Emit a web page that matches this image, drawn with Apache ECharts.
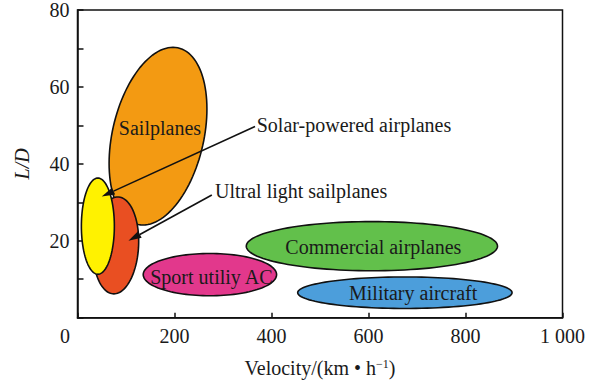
<!DOCTYPE html>
<html>
<head>
<meta charset="utf-8">
<script src="https://cdn.jsdelivr.net/npm/echarts@6/dist/echarts.min.js"></script>
<style>html,body{margin:0;padding:0;background:#fff}#c{width:600px;height:386px}</style>
</head>
<body>
<div id="c"></div>
<script>
// ---- data ----
const regionNames = ['Sailplanes', 'Ultral light sailplanes', 'Solar-powered airplanes', 'Commercial airplanes', 'Sport utiliy AC', 'Military aircraft'];
const centerVelocity = [166, 79, 42, 607, 273, 675];
const centerLD = [47.2, 18.8, 23.8, 18.6, 11.2, 6.5];
const halfWidthVelocity = [96, 47, 34, 259, 137.5, 221];
const halfHeightLD = [23.1, 12.6, 12.5, 6.4, 5.5, 4.1];
const tiltVelocity = [30.9, 4, 0, 0, 0, 0];
const innerLabelVelocity = [170, null, null, 610, 276, 692];
const innerLabelLD = [49.3, null, null, 18.5, 10.7, 6.5];

const calloutNames = ['Solar-powered airplanes', 'Ultral light sailplanes'];
const calloutTextVelocity = [369.5, 283.5];
const calloutTextLD = [50.2, 32.9];
const arrowFromVelocity = [366, 277];
const arrowFromLD = [49.7, 31.9];
const arrowToVelocity = [50, 105];
const arrowToLD = [31.5, 20.0];

const xTicks = [0, 200, 400, 600, 800, 1000];
const xTickLabels = ['0', '200', '400', '600', '800', '1 000'];
const yLabelled = [20, 40, 60, 80];

// ---- styles ----
const regionColors = ['#F39A12', '#E94F22', '#FFF200', '#62C04B', '#E2388C', '#4C9EDB'];
const FONT = "'Liberation Serif','Times New Roman',serif";
const INK = '#1a1a1a';

const chart = echarts.init(document.getElementById('c'), null, {renderer: 'svg'});

const regionData = regionNames.map((n, i) => [centerVelocity[i], centerLD[i], halfWidthVelocity[i], halfHeightLD[i], tiltVelocity[i]]);
const labelData = regionNames.map((n, i) => [innerLabelVelocity[i], innerLabelLD[i], n]).filter(d => d[0] !== null);
const calloutData = calloutNames.map((n, i) => [arrowFromVelocity[i], arrowFromLD[i], arrowToVelocity[i], arrowToLD[i], calloutTextVelocity[i], calloutTextLD[i], n]);

chart.setOption({
  animation: false,
  grid: {left: 77.5, right: 37.5, top: 10, bottom: 68.3, show: true, borderColor: '#111', borderWidth: 1.5, backgroundColor: 'transparent'},
  xAxis: {
    type: 'value', min: 0, max: 1000, interval: 200,
    name: 'Velocity/(km • h{sup|−1})', nameLocation: 'middle', nameGap: 40,
    nameTextStyle: {fontFamily: FONT, fontSize: 20, color: INK, rich: {sup: {fontFamily: FONT, fontSize: 12, color: INK, verticalAlign: 'top', padding: [0, 0, 8, 0]}}},
    axisLine: {show: true, lineStyle: {color: '#111', width: 1.5}},
    axisTick: {show: true, inside: true, length: 5, lineStyle: {color: '#111', width: 1.5}},
    splitLine: {show: false},
    axisLabel: {
      margin: 8, fontFamily: FONT, fontSize: 20, color: INK,
      formatter: v => { const k = xTicks.indexOf(v); if (k < 0) return ''; return v === 0 ? '{z|' + xTickLabels[k] + '}' : xTickLabels[k]; },
      rich: {z: {fontFamily: FONT, fontSize: 20, color: INK, padding: [0, 25, 0, 0]}}
    }
  },
  yAxis: {
    type: 'value', min: 0, max: 80, interval: 10,
    name: 'L/D', nameLocation: 'middle', nameGap: 46, nameRotate: 90,
    nameTextStyle: {fontFamily: FONT, fontSize: 20, color: INK, fontStyle: 'italic'},
    axisLine: {show: true, lineStyle: {color: '#111', width: 1.5}},
    axisTick: {show: true, inside: true, length: 6, lineStyle: {color: '#111', width: 1.5}},
    splitLine: {show: false},
    axisLabel: {margin: 8, fontFamily: FONT, fontSize: 20, color: INK, formatter: v => yLabelled.indexOf(v) >= 0 ? String(v) : ''}
  },
  series: [
    {
      type: 'custom', coordinateSystem: 'cartesian2d', data: regionData, z: 2,
      renderItem: (params, api) => {
        const cx = api.value(0), cy = api.value(1), a = api.value(2), b = api.value(3), s = api.value(4);
        const pts = [];
        const N = 120;
        for (let k = 0; k < N; k++) {
          const t = 2 * Math.PI * k / N;
          pts.push(api.coord([cx + s * Math.cos(t) + a * Math.sin(t), cy + b * Math.cos(t)]));
        }
        return {type: 'polygon', shape: {points: pts}, style: {fill: regionColors[params.dataIndex], stroke: '#111', lineWidth: 1.6}};
      }
    },
    {
      type: 'custom', coordinateSystem: 'cartesian2d', data: labelData, z: 3,
      renderItem: (params, api) => {
        const p = api.coord([api.value(0), api.value(1)]);
        return {type: 'text', x: p[0], y: p[1], style: {text: labelData[params.dataIndex][2], fontFamily: FONT, fontSize: 20, fill: INK, align: 'center', verticalAlign: 'middle'}};
      }
    },
    {
      type: 'custom', coordinateSystem: 'cartesian2d', data: calloutData, z: 4,
      renderItem: (params, api) => {
        const d = calloutData[params.dataIndex];
        const p0 = api.coord([d[0], d[1]]);
        const p1 = api.coord([d[2], d[3]]);
        const tp = api.coord([d[4], d[5]]);
        const dx = p1[0] - p0[0], dy = p1[1] - p0[1];
        const L = Math.sqrt(dx * dx + dy * dy);
        const ux = dx / L, uy = dy / L;
        const hl = 13, hw = 3.8;
        const bx = p1[0] - ux * hl, by = p1[1] - uy * hl;
        return {type: 'group', children: [
          {type: 'line', shape: {x1: p0[0], y1: p0[1], x2: bx, y2: by}, style: {stroke: '#111', lineWidth: 1.6}},
          {type: 'polygon', shape: {points: [[p1[0], p1[1]], [bx - uy * hw, by + ux * hw], [bx + uy * hw, by - ux * hw]]}, style: {fill: '#111'}},
          {type: 'text', x: tp[0], y: tp[1], style: {text: d[6], fontFamily: FONT, fontSize: 20, fill: INK, align: 'left', verticalAlign: 'middle'}}
        ]};
      }
    }
  ]
});
</script>
</body>
</html>
